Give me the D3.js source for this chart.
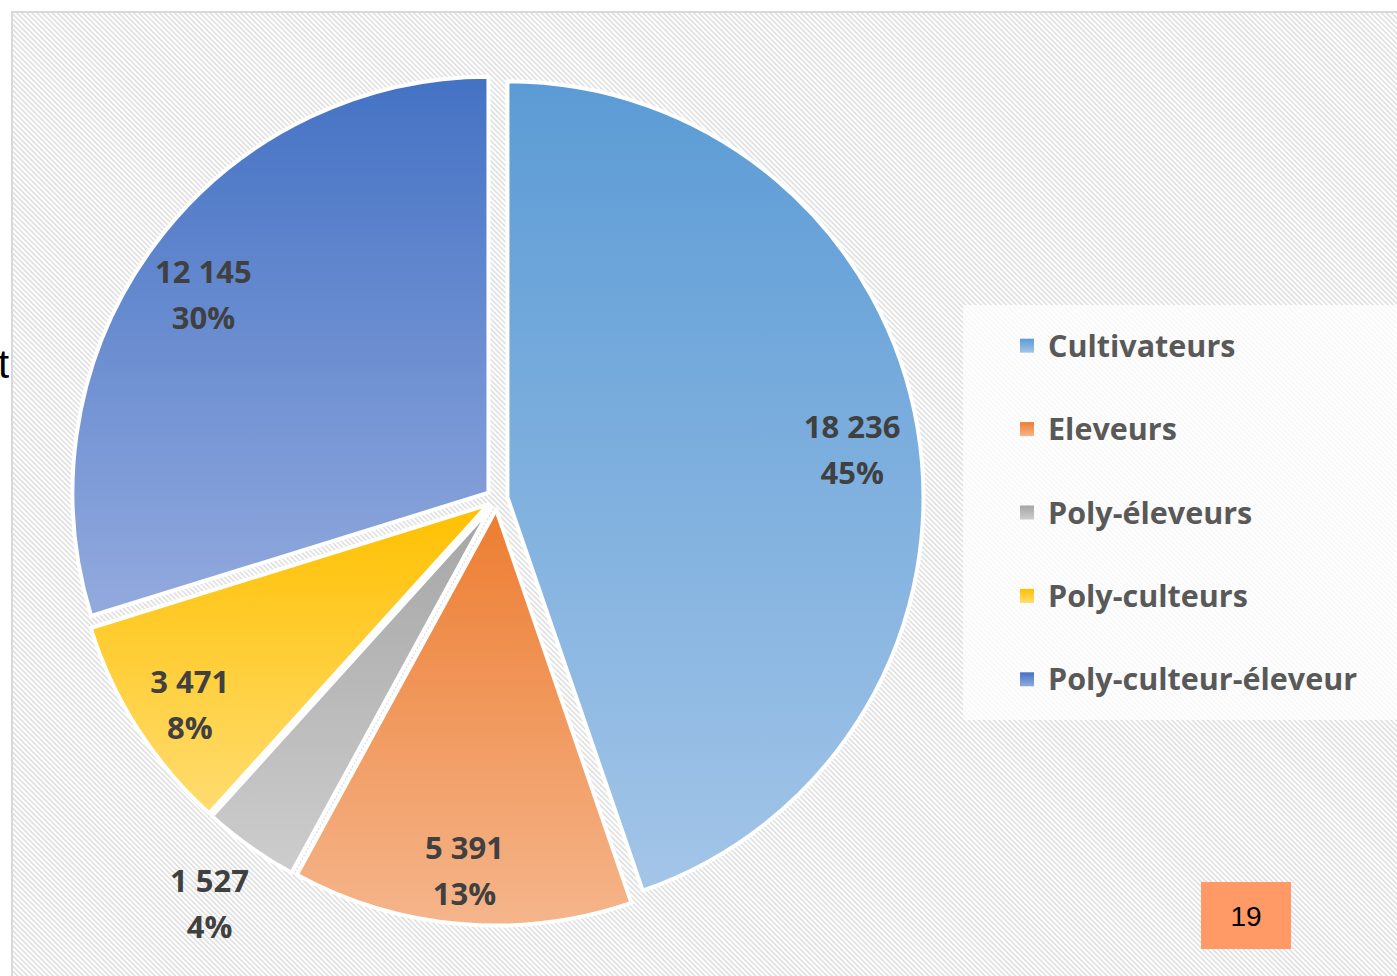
<!DOCTYPE html>
<html>
<head>
<meta charset="utf-8">
<script src="https://cdn.jsdelivr.net/npm/d3@7"></script>
<style>
  body { margin: 0; background: #fff; overflow: hidden; }
</style>
</head>
<body>
<script>
// data
const categories = ["Cultivateurs", "Eleveurs", "Poly-éleveurs", "Poly-culteurs", "Poly-culteur-éleveur"];
const values = [18236, 5391, 1527, 3471, 12145];
const percents = [45, 13, 4, 8, 30];
const pageNumber = "19";

// gradient stops per slice (top -> bottom)
const colorsTop = ["#5b9bd5", "#ed7d31", "#a5a5a5", "#ffc000", "#4472c4"];
const colorsBottom = ["#a3c5e8", "#f5b58b", "#cdcdcd", "#ffdc70", "#93aade"];

const width = 1397, height = 976;
const cx = 497, cy = 499, radius = 416, explode = 10.6;

const data = categories.map((name, i) => ({ name, value: values[i], pct: percents[i], i }));
const fmt = d3.formatLocale({ thousands: " ", grouping: [3], decimal: ",", currency: ["", ""] }).format(",");

const svg = d3.select("body").append("svg")
    .attr("width", width)
    .attr("height", height);

const defs = svg.append("defs");

// diagonal hatch for the chart area
const hatch = defs.append("pattern")
    .attr("id", "hatch")
    .attr("patternUnits", "userSpaceOnUse")
    .attr("width", 8)
    .attr("height", 3.6)
    .attr("patternTransform", "rotate(45)");
hatch.append("rect").attr("width", 8).attr("height", 3.6).attr("fill", "#ffffff");
hatch.append("rect").attr("width", 8).attr("height", 1.8).attr("fill", "#e2e2e2");

data.forEach(d => {
    const g = defs.append("linearGradient")
        .attr("id", "grad" + d.i)
        .attr("x1", 0).attr("y1", 0).attr("x2", 0).attr("y2", 1);
    g.append("stop").attr("offset", "0%").attr("stop-color", colorsTop[d.i]);
    g.append("stop").attr("offset", "100%").attr("stop-color", colorsBottom[d.i]);
});

// chart area
svg.append("rect")
    .attr("x", 12).attr("y", 12)
    .attr("width", width + 20).attr("height", height + 20)
    .attr("fill", "url(#hatch)")
    .attr("stroke", "#d9d9d9")
    .attr("stroke-width", 2);

// stray letter from the slide behind
svg.append("text")
    .attr("x", 9).attr("y", 378)
    .attr("text-anchor", "end")
    .style("font-family", "'Liberation Sans', Arial, sans-serif")
    .style("font-size", "40px")
    .attr("fill", "#000")
    .text("t");

const pie = d3.pie().sort(null).value(d => d.value);
const arcs = pie(data);

const arc = d3.arc().innerRadius(0).outerRadius(radius);
const midAngle = d => (d.startAngle + d.endAngle) / 2;
const offset = (d, r) => [Math.sin(midAngle(d)) * r, -Math.cos(midAngle(d)) * r];

const pieG = svg.append("g").attr("transform", `translate(${cx},${cy})`);

pieG.selectAll("path")
    .data(arcs)
    .join("path")
    .attr("transform", d => `translate(${offset(d, explode)})`)
    .attr("d", arc)
    .attr("fill", d => `url(#grad${d.data.i})`)
    .attr("stroke", "#fff")
    .attr("stroke-width", 4)
    .attr("stroke-linejoin", "round");

// labels: inside for big slices, outside for the thin one
pieG.append("g")
    .attr("text-anchor", "middle")
    .style("font-family", "'Open Sans', sans-serif")
    .style("font-weight", "bold")
    .style("font-size", "31px")
    .attr("fill", "#404040")
    .selectAll("text")
    .data(arcs)
    .join("text")
    .attr("transform", d => {
        const inside = (d.endAngle - d.startAngle) > 0.3;
        const [ex, ey] = offset(d, explode);
        const [lx, ly] = offset(d, radius * (inside ? 0.845 : 1.135));
        return `translate(${ex + lx - (inside ? 2 : 8)},${ey + ly})`;
    })
    .call(t => t.append("tspan")
        .attr("x", 0).attr("y", -1)
        .text(d => fmt(d.data.value)))
    .call(t => t.append("tspan")
        .attr("x", 0).attr("y", 45)
        .text(d => d.data.pct + "%"));

// legend
const legendY = d3.scaleBand().domain(categories).range([304, 721]);

svg.append("rect")
    .attr("x", 963).attr("y", 305)
    .attr("width", 450).attr("height", 415)
    .attr("fill", "#fff")
    .attr("fill-opacity", 0.75);

const legend = svg.append("g")
    .selectAll("g")
    .data(data)
    .join("g")
    .attr("transform", d => `translate(1020,${legendY(d.name) + legendY.bandwidth() / 2})`);

legend.append("rect")
    .attr("x", 0).attr("y", -7)
    .attr("width", 14).attr("height", 14)
    .attr("fill", d => `url(#grad${d.i})`);

legend.append("text")
    .attr("x", 28).attr("y", 11)
    .style("font-family", "'Open Sans', sans-serif")
    .style("font-weight", "bold")
    .style("font-size", "30.5px")
    .attr("fill", "#595959")
    .text(d => d.name);

// page number box
svg.append("rect")
    .attr("x", 1201).attr("y", 882)
    .attr("width", 90).attr("height", 67)
    .attr("fill", "#ff9966");

svg.append("text")
    .attr("x", 1246).attr("y", 926)
    .attr("text-anchor", "middle")
    .style("font-family", "'Liberation Sans', Arial, sans-serif")
    .style("font-size", "28px")
    .attr("fill", "#000")
    .text(pageNumber);
</script>
</body>
</html>
